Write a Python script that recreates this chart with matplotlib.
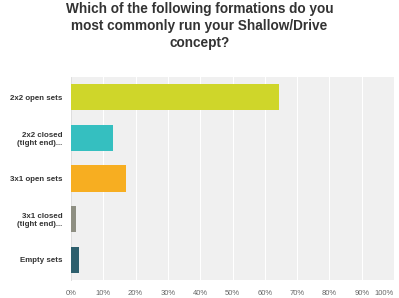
import matplotlib
matplotlib.use("Agg")
import matplotlib.pyplot as plt

categories = ["2x2 open sets", "2x2 closed\n(tight end)...", "3x1 open sets",
              "3x1 closed\n(tight end)...", "Empty sets"]
values = [64.5, 13.1, 17.0, 1.6, 2.4]
colors = ["#cfd62a", "#35bfc0", "#f7ae21", "#8e8f82", "#2d5f6d"]
xticks = list(range(0, 101, 10))
xtick_labels = [f"{t}%" for t in xticks]

plt.rcParams['font.family'] = ['Liberation Sans', 'DejaVu Sans']

fig = plt.figure(figsize=(3.99, 2.98), dpi=100)
ax = fig.add_axes([71/399, 1 - 280/298, 323/399, 203/298])
ax.set_facecolor("#f0f0f0")
ypos = list(range(len(categories)))
ax.barh(ypos, values, height=0.65, color=colors, zorder=3)
ax.set_xlim(0, 100)
ax.set_ylim(len(categories) - 0.5, -0.5)
ax.set_xticks(xticks)
ax.set_xticklabels(xtick_labels, fontsize=5.5, color="#666666")
ax.get_xticklabels()[-1].set_ha("right")
ax.set_yticks(ypos)
ax.set_yticklabels(categories, fontsize=5.7, color="#333333", fontweight="bold")
ax.tick_params(length=0, pad=6)
ax.tick_params(axis='x', pad=7)
ax.grid(axis='x', color="white", linewidth=0.8, zorder=0)
for s in ["top", "right", "bottom"]:
    ax.spines[s].set_visible(False)
ax.spines["left"].set_color("#d8d8d8")
ax.spines["left"].set_linewidth(0.6)

fig.text(0.5, 1 - 2/298, "Which of the following formations do you\nmost commonly run your Shallow/Drive\nconcept?",
         ha="center", va="top", fontsize=9.8, fontweight="bold", color="#333333", linespacing=1.25)

fig.savefig("out.png", dpi=100, facecolor="white")
